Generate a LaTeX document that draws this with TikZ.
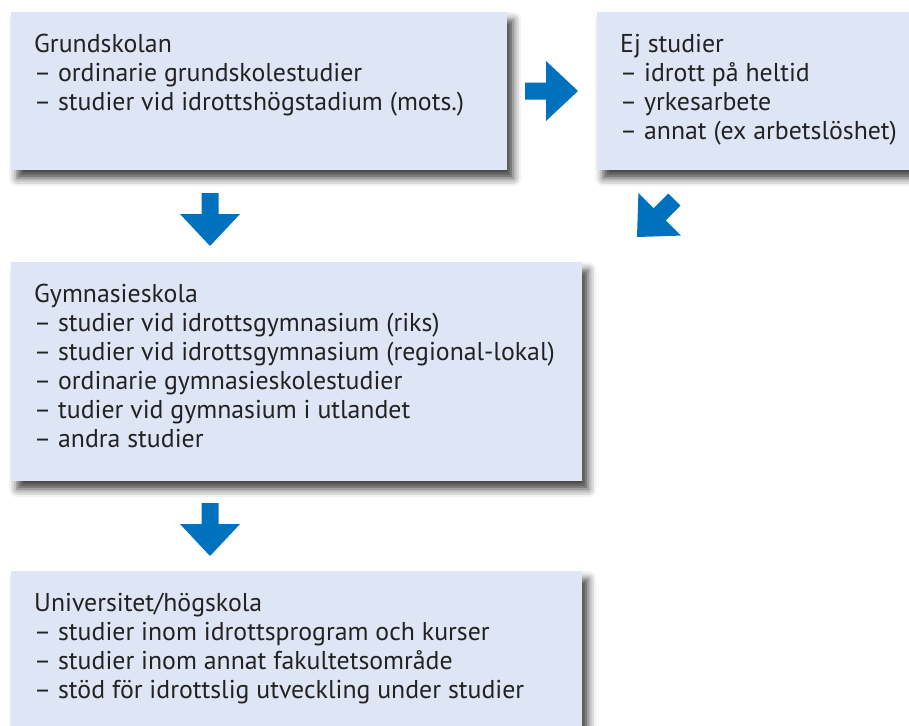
\documentclass[tikz,border=0pt]{standalone}
\usepackage{fontspec}
\setmainfont{PT Sans}
\usetikzlibrary{shadows.blur}
\definecolor{boxfill}{HTML}{DEE6F5}
\definecolor{arrowblue}{HTML}{0071BC}
\definecolor{textgray}{HTML}{222222}
\tikzset{stage/.style={fill=boxfill, anchor=north west, inner sep=0pt,
    blur shadow={shadow xshift=6pt, shadow yshift=-8pt, shadow blur radius=8pt, shadow opacity=75}},
  stagetext/.style={anchor=north west, align=left, inner sep=0pt, text=textgray,
    font=\fontsize{25.8}{29}\selectfont},
  blockarrow/.style={fill=arrowblue}}
% block arrow with its tip at #1, turned by #2 degrees
\newcommand{\flowarrow}[2]{%
  \fill[blockarrow, shift={(#1)}, rotate=#2]
    (0,0) -- (-32,-30) -- (-32,-8.5) -- (-53,-8.5) -- (-53,8.5) -- (-32,8.5) -- (-32,30) -- cycle;}

\begin{document}
\begin{tikzpicture}[x=1pt,y=-1pt]
    \useasboundingbox (0,0) rectangle (909,725);

    \node[stage, minimum width=496pt, minimum height=158pt] (grund) at (11,12) {};
    \node[stage, minimum width=330pt, minimum height=158pt] (ej) at (597,12) {};
    \node[stage, minimum width=571pt, minimum height=219pt] (gymn) at (11,262) {};
    \node[stage, minimum width=571pt, minimum height=170pt] (univ) at (11,571) {};

    \node[stagetext] (grundtext) at ([shift={(23,22)}]grund.north west)
      {Grundskolan\\
       – ordinarie grundskolestudier\\
       – studier vid idrottshögstadium (mots.)};
    \node[stagetext] (ejtext) at ([shift={(23,22)}]ej.north west)
      {Ej studier\\
       – idrott på heltid\\
       – yrkesarbete\\
       – annat (ex arbetslöshet)};
    \node[stagetext] (gymntext) at ([shift={(23,22)}]gymn.north west)
      {Gymnasieskola\\
       – studier vid idrottsgymnasium (riks)\\
       – studier vid idrottsgymnasium (regional-lokal)\\
       – ordinarie gymnasieskolestudier\\
       – tudier vid gymnasium i utlandet\\
       – andra studier};
    \node[stagetext] (univtext) at ([shift={(23,22)}]univ.north west)
      {Universitet/högskola\\
       – studier inom idrottsprogram och kurser\\
       – studier inom annat fakultetsområde\\
       – stöd för idrottslig utveckling under studier};

    % arrow tips
    \coordinate (toej) at (578,91);
    \coordinate (togymn) at (210,246);
    \coordinate (fromej) at (637,237);
    \coordinate (touniv) at (210,556);

    \flowarrow{toej}{0}
    \flowarrow{togymn}{-90}
    \flowarrow{fromej}{-135}
    \flowarrow{touniv}{-90}

\end{tikzpicture}
\end{document}
